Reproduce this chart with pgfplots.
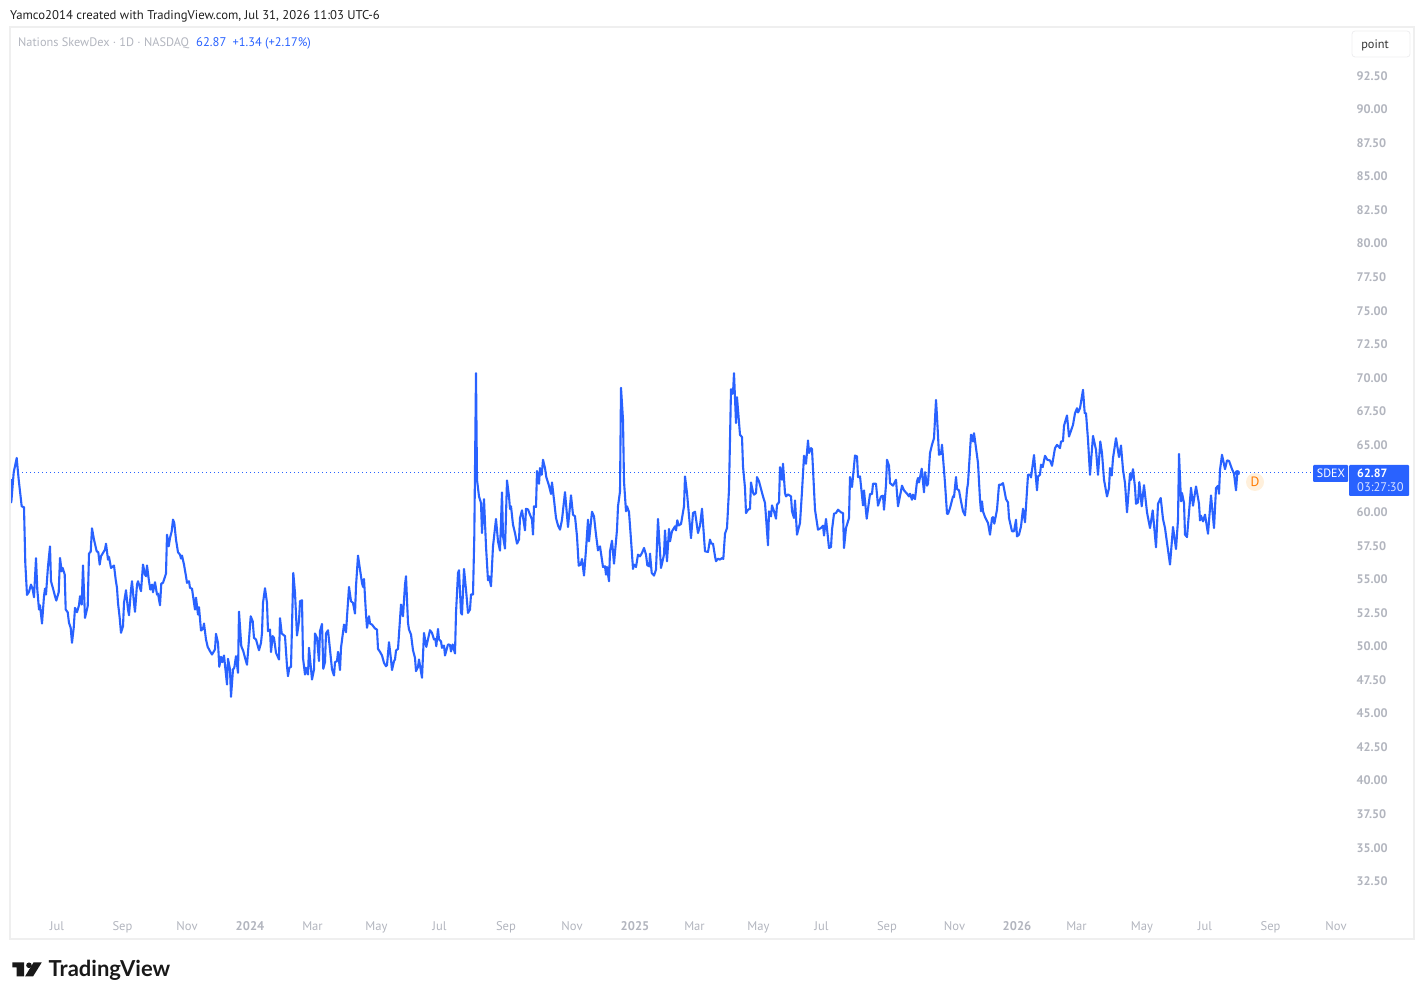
\documentclass[border=0pt]{standalone}
\usepackage{fontspec}
\setmainfont{PT Sans}
\newfontfamily\logofont{Lato}
\usepackage{pgfplots}
\pgfplotsset{compat=1.18}
\definecolor{tvblue}{HTML}{2962FF}
\definecolor{tvgray}{HTML}{B2B5BE}
\definecolor{tvframe}{HTML}{EFEFEF}
\definecolor{tvorange}{HTML}{FF7A00}
\definecolor{tvpale}{HTML}{FFF0DC}
\newcommand{\px}[1]{\fontsize{#1}{#1}\selectfont}
\begin{document}
\begin{tikzpicture}
\path[use as bounding box] (0,0) rectangle (1424pt,1000pt);
\begin{axis}[
  at={(10pt,88pt)}, anchor=south west,
  scale only axis, width=1339pt, height=885pt,
  xmin=10, xmax=1349, ymin=30.15, ymax=96.08,
  axis line style={draw=none},
  major tick length=0pt,
  ytick={32.5,35,37.5,40,42.5,45,47.5,50,52.5,55,57.5,60,65,67.5,70,72.5,75,77.5,80,82.5,85,87.5,90,92.5},
  yticklabel pos=right,
  /pgf/number format/assume math mode=true,
  /pgf/number format/fixed, /pgf/number format/fixed zerofill, /pgf/number format/precision=2,
  yticklabel style={font=\px{12.4}\bfseries, text=tvgray, anchor=west, xshift=4pt, yshift=-0.8pt},
  xtick={57,122.5,187,250,312.5,376.5,439.5,506,572,635,694.5,758.5,821.5,887,954.5,1017,1076.5,1142,1205,1270.5,1336},
  xticklabels={Jul,Sep,Nov,\textbf{2024},Mar,May,Jul,Sep,Nov,\textbf{2025},Mar,May,Jul,Sep,Nov,\textbf{2026},Mar,May,Jul,Sep,Nov},
  xticklabel style={font=\px{12.6}, text=tvgray, anchor=base, yshift=-18.5pt},
  clip=true,
]
\addplot[tvblue, line width=1pt, dash pattern=on 1pt off 3pt, forget plot] coordinates {(10,62.87) (1313,62.87)};
\addplot[tvblue, line width=2.1pt, line join=round, no marks] table {
x y
10.7 62.4
11.3 60.67
13.7 62.9
16.7 63.97
18.7 62.35
21.7 60.37
24 60.3
25.3 56.15
27 53.77
29 54
31 54.54
32.7 54.17
34 53.6
36 56.5
37.3 54.17
39 52.68
40 53
42 51.64
44 53.67
45 54.24
46 53.8
48 55.9
50 57.39
51 54.79
53.3 54.17
55 53.67
56.3 53.35
58.7 53.97
60 56.53
61.7 55.53
62.7 55.78
64.7 55.29
65.7 52.68
67.7 52.48
69 51.69
70.7 51.32
72 50.2
73.7 51.32
75 52.81
77 52.48
79 53
80 53.67
81.7 53.05
83 55.96
85 52.06
87.7 52.93
89 56.85
90.7 57
92 58.73
94 57.89
96.7 57.02
98.3 56.95
99.7 56.03
101 56.65
105 57.15
106 57.59
108 56.4
109 56.6
111 55.78
114 55.96
115.7 54.91
117 54.29
118 53.18
119.7 52.06
121 50.95
123 51.44
124 53.18
126 54.12
128 52.68
129 52.26
131 54.17
132 54.79
134 53.18
135 52.51
137 54.54
138 54.79
141 54.05
143 56.03
145 55.29
146 55.16
147 55.96
149 54.79
150.3 54.17
152 54.54
153 53.97
155 54.72
157 53.8
158 53.87
160 53
161.3 54.62
163 54.67
166 55.36
167 58.26
168.7 57.39
170 58.01
171.7 58.51
173 59.38
174.3 59.13
176 57.89
178 56.95
180 56.77
181 56.48
182 56.7
184 56.03
186 55.16
187 54.67
189 54.79
190 54.29
192 54.24
194 53.18
195 52.68
196 53.57
198 52.31
199 52.86
201 51.12
203 51.24
204 51.64
206 50.45
207.7 49.9
210 49.58
212 49.33
215 49.71
216 50.87
218 50.2
219.3 48.42
221 49.16
222.3 48.76
224 49.26
227 47.1
228 49.01
230 48.22
231 46.18
233 48.22
234.3 48.34
236 49.21
238 47.97
239 52.53
241.3 49.95
243.3 49.58
245 49.09
247 48.57
249 50.45
250.7 52.18
252.7 51.81
254 50.57
256 50.45
259 49.65
261 50.2
262 50.94
263 53.18
265 54.27
267 53.18
268 51.07
270 51.19
271 49.51
272.7 50.7
274 50.57
276 49.46
279 48.96
280 52.04
281.7 50.9
285 50.7
287 48.46
288 47.72
289.3 48.34
291 48.41
293.3 55.41
295 53.92
297 50.75
299 51.81
300 53.3
302 53.37
303 49.08
305 47.84
306 48.34
308 47.84
309 49.83
312 47.47
314 48.22
315 50.9
317 50.57
319 48.84
320 51.07
322 51.61
323.3 48.27
325 48.76
326 50.9
328 51.14
330 49.7
332 48.22
334 47.77
335 48.76
337 48.84
338 49.53
340 48.17
341 49.83
344 51.56
346 50.99
349 54.37
351 53.3
353 53.18
355 52.38
356 54.42
358 56.7
360 55.66
362 54.66
363 54.37
364 54.96
366 52.31
367 51.32
369 52.18
370 51.64
372 51.56
375 51.27
377 51.19
378 49.75
380 49.53
382 49.26
384 48.71
386 48.46
387 48.54
389 50.25
391 48.96
392 48.17
394 48.84
395 48.96
396 49.63
398 49.75
401 53.05
403 52.18
405 54.54
406 55.16
408 51.69
409 51.19
411 50.82
413 49.65
415 49.08
416 48.09
418 48.41
419 48.96
422 47.6
424 50.94
426.3 49.9
430 51.14
432 50.94
434 50.45
435.3 50.5
436.3 49.95
438 51.24
439 50.45
441 50.32
442 49.83
444 50
445 49.26
448 50.08
450 50.05
451 49.56
452.7 50.08
455 49.41
456 52.43
458 55.41
459 55.61
461 52.43
462 52.31
464 55.71
466 54.17
468 52.43
470 52.68
471 53.8
473 53.8
474.3 58.14
476 70.29
477 62.35
479 61.11
481 60.62
482 58.38
484 60.91
486 57.39
488 54.86
489 55.16
491 54.42
493 57.39
496 59.43
498 57.76
500 57.07
502 61.41
503 58.14
505 57.22
507 62.3
509 61.11
510 60.17
511 60.37
513 59
515 58.38
517 57.59
519 57.89
520 59.5
522 60.07
525 58.58
526 60.19
528 60.14
530 59.75
532 59.38
533 58.26
534 60.37
536 60.32
537 63
539 62.05
540 63.22
541.7 62.72
543 63.84
545 63.22
546.3 62.55
549 61.91
551 61.29
552 62.15
554 60.86
556 59.5
558 58.95
560 58.63
562 59.38
565 61.43
568 58.83
571 61.19
573 59.75
575 59.62
577 58.14
578.7 55.95
580.7 56.03
582 56.45
584 55.21
586 57.14
588 59.38
589 57.76
592 59.97
594 59.62
596 58.26
598 57.09
600 57.39
603 55.85
605 55.9
606 55.28
607 55.85
609 54.79
610 57.02
612 57.81
614 56.1
617 58.63
618 60.37
620 61.48
621 69.2
623 66.82
624 62.23
625 61.11
626 60
627 60.37
629 59.95
631 57.89
633 55.71
634 56.03
636 55.85
638 56.77
640 56.65
642 56.9
644 57.27
646 56.77
647.3 55.98
649.3 55.9
650 56.85
651.7 55.41
654 55.21
656 55.66
658 59.43
661 55.78
664 56.77
665 58.58
667 56.28
669 58.68
670 57.76
672 58.51
675 58.88
676 58.58
677.3 59.33
678.7 58.95
681 59.05
684 60.37
685 62.6
687 61.36
691 58
693 59.87
695 59.97
698 58.38
700 58.93
702 60.19
705 57.02
708 56.97
710 57.89
711.3 57.59
713 57.59
715 56.65
716 56.28
718 56.47
720 56.4
722 56.52
723.3 56.45
725 58.33
727 58.76
729 61.61
731 69.1
732 68.75
733 68.8
734 70.29
736 66.57
737 68.5
740 65.7
742 65.53
743 63.34
745 61.73
746 59.87
748 60.12
750 60.19
751 62.15
753 61.41
754 61.24
756 61.36
757 62.55
759 62.23
763 61.11
765 60.62
768 57.47
769 60
771 59.62
772 60.44
774 60
776 59.45
777 60.49
779 60.67
780 63.29
782 62.35
783 63.54
785 61.36
786 61.11
788 61.26
791 61.11
792 60
794 59.5
795 60.81
797 58.26
800 59.13
802 61.48
804 64.14
806 63.54
808 65.28
809 64.34
811 64.71
812 64.63
815 60.12
818 58.63
821 58.76
823 58.93
824 58.19
826 59.43
829 57.27
831 57.34
832 58.63
834 59.82
836 59.87
838 60.12
841 59.92
843 59.87
844 57.27
846 58.76
849 59.5
850 62.55
852 61.81
855 64.16
857 64.09
858 62.55
860 62.6
863 60.44
864 61.56
866.7 59.45
870 61.29
872 61.29
873 62.05
876 62.05
878 60.42
881 61.11
883 61.16
884 60.12
886 61.98
887 63.84
889 63.39
890 62.1
893 61.91
894 62.05
896 62.35
898 60.37
902 61.91
904 61.56
907 61.31
909 61.11
910 61.31
912 60.86
913 61.24
915 60.91
917 62.23
918 62.48
919 62.15
921.7 63.17
924 61.41
925 62.92
927 61.91
928 62.05
930 64.34
932 64.96
934 65.45
936 68.3
937 67.06
939 64.21
941 64.29
942 64.96
945 62.1
947 59.82
948 59.8
950 60.24
953 61.11
954 61.06
956 62.55
957 61.66
959 61.56
961 60.74
963 60
965 59.7
967 61.61
968 62.1
971 65.7
972 65.63
973 65.2
974 65.82
976 64.71
978 63.59
980 60.86
981 60
982 60.74
983 60
985 59.57
988 59.13
990 58.26
992 59.5
993 59.57
994.3 59.08
997 60.12
999 61.98
1001 61.98
1003 62.1
1006 60.91
1008 60.66
1009 59.5
1012 58.51
1014 58.51
1016 59.37
1017 58.13
1019 58.26
1021 58.88
1023 60.19
1025 59.18
1028 62.72
1030 62.72
1031 62.52
1034 64.19
1037 61.56
1038 62.6
1040 62.72
1041 63.47
1042.7 63.29
1045 64.14
1047.3 63.84
1050 63.79
1052 63.39
1055 64.71
1057 64.95
1060 64.71
1061 65.2
1063 65.23
1064 66.37
1067 67.14
1069 65.57
1073 66.44
1075 67.31
1077 67.68
1078 67.36
1080 67.68
1083 69.05
1084.7 67.31
1086 67.31
1088 65.33
1090 62.72
1093 65.62
1096 64.58
1098 62.72
1100.3 65.2
1102 64.33
1104 62.35
1107 61.11
1109 61.73
1110 63.22
1111.7 62.67
1113 63.96
1116 65.45
1119 64.04
1121 64.9
1123 63.09
1125 62.1
1127 59.92
1130 62.8
1131 62.35
1133 63.14
1135 61.8
1136 60.56
1138 60.66
1139.3 62.18
1141.7 60.37
1144 61.95
1147 59.92
1150 58.75
1152.7 60.07
1156 57.32
1158 60.56
1160.7 60.99
1163 59.42
1165 58.75
1170 56.03
1173 58.83
1176 57.19
1178 59.37
1179 64.28
1181 60.74
1182 61.36
1184 60.61
1185 58.26
1187 58.08
1191 61.75
1193 60.42
1196 61.85
1199 60.56
1200 59.32
1201 59.67
1203 59.25
1205 59.75
1208 58.33
1211 61.18
1214 58.75
1216 61.73
1218 61.9
1219 61.31
1220 63.09
1222 64.21
1225 63.14
1227 63.79
1229 63.76
1232 63.14
1234 62.8
1236 61.56
1237.3 62.87
};
\addplot[tvblue, only marks, mark=*, mark size=2.5pt, mark options={fill=tvblue, draw=tvblue}] coordinates {(1237.3,62.87)};
\end{axis}
\begin{scope}[x=1pt,y=-1pt,shift={(0pt,1000pt)}]
\draw[tvframe, line width=1.6pt] (10,27) rectangle (1414,939);
\node[anchor=base west, inner sep=0pt, text=black!88] at (10,19.5) {\px{12.7}Yamco2014 created with TradingView.com, Jul 31, 2026 11:03 UTC-6};
\node[anchor=base west, inner sep=0pt, text=tvgray] at (18,46.5) {\px{12.3}Nations SkewDex · 1D · NASDAQ};
\node[anchor=base west, inner sep=0pt, text=tvblue] at (196,46.5) {\px{12.6}62.87};
\node[anchor=base west, inner sep=0pt, text=tvblue] at (232.5,46.5) {\px{12.4}+1.34 (+2.17\%)};
\draw[tvframe!70!tvgray!50, line width=0.8pt, rounded corners=3pt, fill=white] (1352,31) rectangle (1410,57);
\node[anchor=base, text=black!80, inner sep=0pt] at (1375,48.5) {\px{12.3}point};
\fill[tvblue, rounded corners=1pt] (1313,465) rectangle (1348,482);
\node[anchor=base, text=white, inner sep=0pt] at (1331,478) {\px{12}SDEX};
\fill[tvblue, rounded corners=1pt] (1349,465) rectangle (1409,496);
\node[text=white, inner sep=0pt, anchor=base west] at (1357,478) {\px{12}\textbf{62.87}};
\node[text=white!80!tvblue, inner sep=0pt, anchor=base west] at (1357,492) {\px{12.5}03:27:30};
\fill[tvpale] (1255,482) circle (9);
\node[text=tvorange, inner sep=0pt] at (1255,482) {\px{13.5}D};
\fill[black!90] (12.3,962.5) -- (24,962.5) -- (24,976.5) -- (16.7,976.5) -- (16.7,967.5) -- (12.3,967.5) -- cycle;
\fill[black!90] (29,965.3) circle (2.8);
\fill[black!90] (33.5,962.5) -- (41.7,962.5) -- (33,976.5) -- (25,976.5) -- cycle;
\node[anchor=base west, inner sep=0pt, text=black!90] at (48.5,977) {\logofont\bfseries\px{22}TradingView};
\end{scope}
\end{tikzpicture}
\end{document}
